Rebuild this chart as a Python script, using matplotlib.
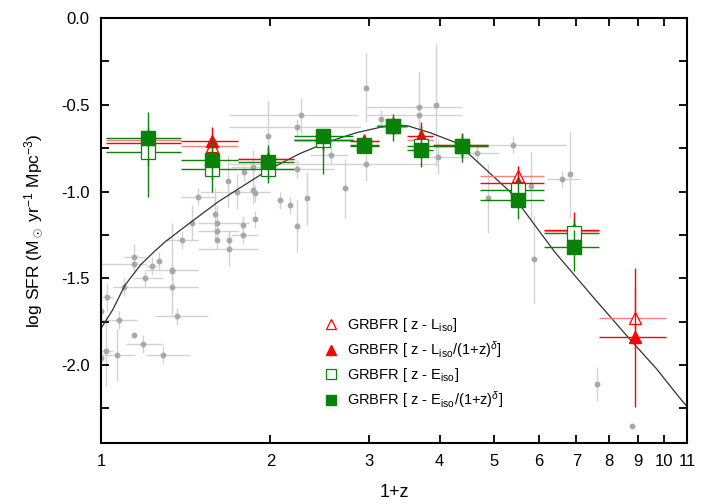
import numpy as np
import matplotlib
matplotlib.use("Agg")
import matplotlib.pyplot as plt
from matplotlib.ticker import FixedLocator, NullLocator, MultipleLocator

plt.rcParams['font.family'] = ['Liberation Sans', 'DejaVu Sans']
plt.rcParams['mathtext.fontset'] = 'custom'
plt.rcParams['mathtext.rm'] = 'Liberation Sans'
plt.rcParams['mathtext.it'] = 'Liberation Sans:italic'

# ---- model curve ----
curve_x = [1.0, 1.05, 1.103, 1.178, 1.24, 1.30, 1.44, 1.614, 1.744, 1.995, 2.26, 2.55, 2.85,
           3.13, 3.30, 3.50, 3.84, 4.29, 4.71, 5.33, 6.41, 7.5, 8.70, 9.7, 10.68, 11.0]
curve_y = [-1.79, -1.68, -1.54, -1.42, -1.35, -1.29, -1.18, -1.06, -0.99, -0.87, -0.78, -0.71, -0.66,
           -0.63, -0.615, -0.62, -0.66, -0.72, -0.84, -1.00, -1.35, -1.61, -1.85, -2.02, -2.19, -2.24]

# ---- background compilation (gray) ----
gx = [1.00, 1.025, 1.02, 1.00, 1.067, 1.076, 1.099, 1.144, 1.144, 1.144, 1.19, 1.197, 1.232,
      1.27, 1.29, 1.34, 1.34, 1.34, 1.365, 1.393, 1.45, 1.487, 1.594, 1.61, 1.61, 1.61,
      1.688, 1.688, 1.68, 1.745, 1.787, 1.787, 1.795, 1.86, 1.86, 1.877, 1.877, 1.98,
      2.08, 2.17, 2.23, 2.23, 2.27, 2.23, 2.32, 2.56, 2.71, 2.96, 2.96, 3.15, 3.68, 3.68,
      3.94, 3.97, 4.66, 4.87, 5.39, 5.81, 5.88, 6.59, 6.83, 7.61, 8.77]
gy = [-1.69, -1.61, -1.92, -1.96, -1.94, -1.74, -1.55, -1.38, -1.42, -1.83, -1.88, -1.50, -1.43,
      -1.40, -1.94, -1.45, -1.46, -1.55, -1.72, -1.28, -1.18, -1.03, -1.13, -1.18, -1.23, -1.28,
      -1.28, -1.33, -0.94, -1.00, -1.19, -1.25, -0.89, -0.86, -0.99, -1.16, -1.01, -0.68,
      -1.05, -1.08, -1.20, -0.63, -0.56, -0.87, -1.04, -0.79, -0.98, -0.40, -0.84, -0.58, -0.51, -0.56,
      -0.50, -0.80, -0.78, -1.04, -0.73, -0.97, -1.39, -0.93, -0.90, -2.11, -2.35]
gx_lo = [1.00, 1.00, 1.00, 1.00, 1.00, 1.00, 1.05, 1.10, 1.00, 1.144, 1.11, 1.14, 1.20,
         1.27, 1.20, 1.20, 1.34, 1.20, 1.25, 1.30, 1.45, 1.39, 1.594, 1.49, 1.49, 1.61,
         1.688, 1.49, 1.68, 1.50, 1.787, 1.70, 1.795, 1.70, 1.86, 1.877, 1.877, 1.98,
         2.08, 2.17, 2.23, 1.69, 1.69, 2.00, 2.32, 2.35, 2.71, 2.96, 1.69, 3.15, 2.97, 2.97,
         3.94, 3.60, 4.30, 4.87, 4.50, 5.81, 5.88, 6.20, 6.83, 7.61, 8.77]
gx_hi = [1.00, 1.05, 1.05, 1.00, 1.15, 1.16, 1.20, 1.20, 1.20, 1.144, 1.29, 1.29, 1.26,
         1.27, 1.44, 1.49, 1.34, 1.49, 1.55, 1.49, 1.45, 1.60, 1.594, 1.83, 1.76, 1.61,
         1.688, 1.90, 1.68, 2.00, 1.787, 1.90, 1.795, 2.00, 1.86, 1.877, 1.877, 1.98,
         2.08, 2.17, 2.23, 2.90, 2.86, 2.60, 2.32, 2.75, 2.71, 2.96, 3.95, 3.15, 4.39, 4.39,
         3.94, 4.50, 5.10, 4.87, 6.70, 5.81, 5.88, 7.10, 6.83, 7.61, 8.77]
gy_err = [0.15, 0.08, 0.20, 0.05, 0.15, 0.05, 0.05, 0.08, 0.05, 0.00, 0.05, 0.05, 0.05,
          0.05, 0.05, 0.27, 0.05, 0.05, 0.05, 0.05, 0.10, 0.05, 0.15, 0.10, 0.05, 0.05,
          0.05, 0.10, 0.15, 0.10, 0.05, 0.05, 0.05, 0.10, 0.08, 0.05, 0.05, 0.20,
          0.05, 0.05, 0.15, 0.05, 0.10, 0.05, 0.15, 0.05, 0.17, 0.20, 0.10, 0.05, 0.20, 0.05,
          0.35, 0.10, 0.05, 0.20, 0.05, 0.20, 0.25, 0.05, 0.25, 0.10, 0.00]

# ---- GRB-derived formation rate bins ----
bx = [1.21, 1.575, 1.98, 2.48, 2.94, 3.30, 3.70, 4.38, 5.50, 6.92, 8.91]
bx_lo = [1.02, 1.39, 1.75, 2.20, 2.77, 3.10, 3.50, 3.89, 4.71, 6.13, 7.67]
bx_hi = [1.39, 1.75, 2.20, 2.80, 3.12, 3.50, 3.89, 4.87, 6.13, 7.69, 10.1]

tri_open = [-0.70, -0.74, -0.81, -0.70, -0.71, -0.62, -0.70, -0.73, -0.91, -1.23, -1.73]
tri_open_err = [0.08, 0.08, 0.06, 0.06, 0.04, 0.05, 0.08, 0.07, 0.06, 0.08, 0.18]
tri_fill = [-0.72, -0.71, -0.81, -0.70, -0.71, -0.62, -0.68, -0.73, -0.95, -1.22, -1.84]
tri_fill_err = [0.08, 0.08, 0.06, 0.06, 0.04, 0.05, 0.08, 0.07, 0.10, 0.10, 0.40]
sq_open = [-0.77, -0.87, -0.87, -0.70, -0.74, -0.62, -0.74, -0.74, -0.99, -1.24]
sq_open_err = [0.08, 0.06, 0.06, 0.06, 0.04, 0.05, 0.06, 0.06, 0.06, 0.08]
sq_fill = [-0.69, -0.82, -0.83, -0.68, -0.73, -0.62, -0.76, -0.74, -1.05, -1.32]
sq_fill_lo = [0.34, 0.18, 0.12, 0.22, 0.04, 0.09, 0.10, 0.09, 0.11, 0.14]
sq_fill_hi = [0.15, 0.12, 0.10, 0.04, 0.03, 0.07, 0.14, 0.07, 0.11, 0.10]

labels = ['GRBFR [ z - L$_\\mathrm{iso}$]',
          'GRBFR [ z - L$_\\mathrm{iso}$/(1+z)$^\\delta$]',
          'GRBFR [ z - E$_\\mathrm{iso}$]',
          'GRBFR [ z - E$_\\mathrm{iso}$/(1+z)$^\\delta$]']

RED = '#ff0000'
GREEN = '#0a820a'


def xerr(x, lo, hi):
    x = np.array(x)
    return [x - np.array(lo[:len(x)]), np.array(hi[:len(x)]) - x]


fig = plt.figure(figsize=(7.06, 5.04), dpi=100)
ax = fig.add_axes([0.143, 0.121, 0.830, 0.843])

# gray compilation
ax.errorbar(gx, gy, xerr=xerr(gx, gx_lo, gx_hi), yerr=gy_err, fmt='o', ms=3.2,
            color='#a8a8a8', ecolor='#d2d2d2', elinewidth=1.0, capsize=0, zorder=1)

ax.plot(curve_x, curve_y, color='#333333', lw=0.9, zorder=2)

# red triangles
ax.errorbar(bx, tri_open, xerr=xerr(bx, bx_lo, bx_hi), yerr=tri_open_err, fmt='none',
            ecolor='#ff8080', elinewidth=1.0, capsize=0, zorder=3)
ax.plot(bx, tri_open, '^', ms=8.5, mfc='white', mec=RED, mew=0.9, ls='none', zorder=4,
        label=labels[0])
ax.errorbar(bx, tri_fill, xerr=xerr(bx, bx_lo, bx_hi), yerr=tri_fill_err, fmt='none',
            ecolor=RED, elinewidth=1.0, capsize=0, zorder=5)
ax.plot(bx, tri_fill, '^', ms=8.5, color=RED, ls='none', zorder=6, label=labels[1])

# green squares
bx10 = bx[:10]
ax.errorbar(bx10, sq_open, xerr=xerr(bx10, bx_lo, bx_hi), yerr=sq_open_err, fmt='none',
            ecolor=GREEN, elinewidth=1.0, capsize=0, zorder=7)
ax.plot(bx10, sq_open, 's', ms=9.5, mfc='white', mec=GREEN, mew=0.9, ls='none', zorder=8,
        label=labels[2])
ax.errorbar(bx10, sq_fill, xerr=xerr(bx10, bx_lo, bx_hi), yerr=[sq_fill_lo, sq_fill_hi],
            fmt='none', ecolor=GREEN, elinewidth=1.0, capsize=0, zorder=9)
ax.plot(bx10, sq_fill, 's', ms=9.5, color=GREEN, ls='none', zorder=10, label=labels[3])

ax.set_xscale('log')
ax.set_xlim(1, 11)
ax.set_ylim(-2.45, 0.0)

xt = [1, 2, 3, 4, 5, 6, 7, 8, 9, 10, 11]
ax.xaxis.set_major_locator(FixedLocator(xt))
ax.xaxis.set_minor_locator(NullLocator())
ax.set_xticklabels([str(v) for v in xt])
ax.yaxis.set_major_locator(MultipleLocator(0.5))
ax.yaxis.set_minor_locator(MultipleLocator(0.25))
ax.yaxis.set_major_formatter(matplotlib.ticker.FormatStrFormatter('%.1f'))

ax.tick_params(which='both', direction='in', top=True, right=True, width=1.3,
               labelsize=12, pad=8)
ax.tick_params(which='major', length=6)
ax.tick_params(which='minor', length=6)
for s in ax.spines.values():
    s.set_linewidth(1.5)

ax.set_xlabel('1+z', fontsize=13, labelpad=11)
ax.set_ylabel('log SFR (M$_\\odot$ yr$^{-1}$ Mpc$^{-3}$)', fontsize=12.5, labelpad=12)

ax.legend(loc='upper left', bbox_to_anchor=(0.355, 0.33), frameon=False, fontsize=10.5,
          handletextpad=0.5, labelspacing=0.38, handlelength=1.2, markerscale=0.8)

fig.savefig('out.png', dpi=100)
